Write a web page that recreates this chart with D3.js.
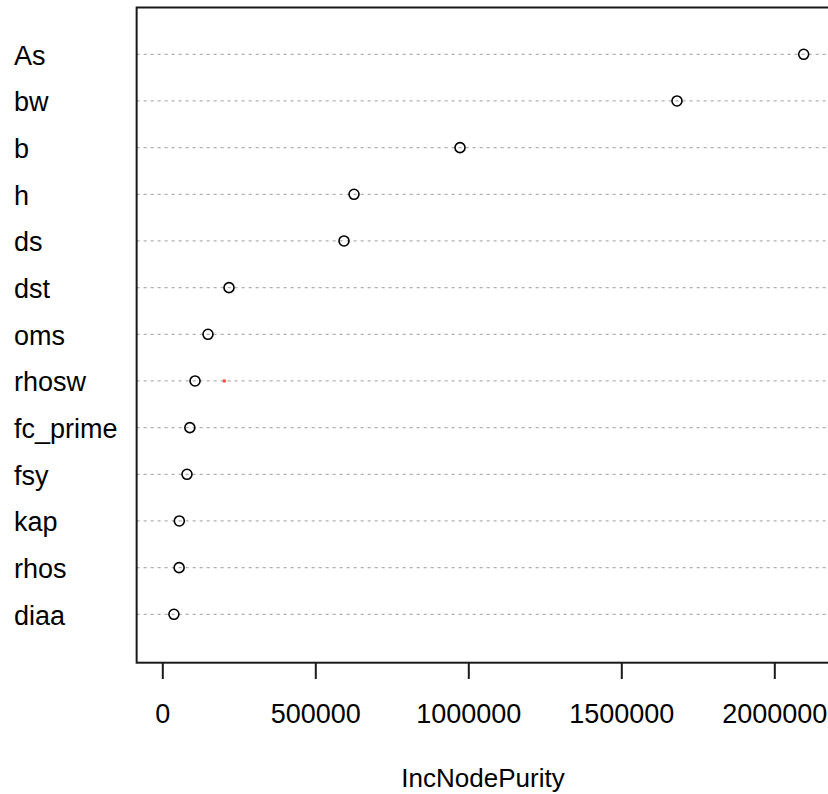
<!DOCTYPE html>
<html>
<head>
<meta charset="utf-8">
<script src="https://cdn.jsdelivr.net/npm/d3@7"></script>
<style>
  html, body { margin: 0; padding: 0; background: #fff; }
  svg { display: block; font-family: "Liberation Sans", Arial, sans-serif; }
</style>
</head>
<body>
<svg id="chart" width="828" height="794"></svg>
<script>
// Variable importance (IncNodePurity), drawn bottom-up as in a dot chart
const variables = ["diaa", "rhos", "kap", "fsy", "fc_prime", "rhosw", "oms", "dst", "ds", "h", "b", "bw", "As"];
const purity    = [38000, 55000, 55600, 80700, 90000, 107000, 149300, 218000, 593800, 626500, 972900, 1682000, 2096000];
const xTicks    = [0, 500000, 1000000, 1500000, 2000000];
const xLabel    = "IncNodePurity";
// small red point sitting on the rhosw row
const redPoint  = [{ variable: "rhosw", value: 202600 }];

const svg = d3.select("#chart");

const maxVal = d3.max(purity);
const xDomain = [-0.04 * maxVal, 1.04 * maxVal];

const x = d3.scaleLinear()
  .domain([0, 2000000])
  .range([162.3, 774.3]);

const y = d3.scaleLinear()
  .domain([1, variables.length])
  .range([614.3, 54.3]);

const plotLeft = x(xDomain[0]);
const plotRight = x(xDomain[1]);
const plotTop = 7.5;
const plotBottom = 662.7;

// dotted guide lines, one per variable
svg.append("g")
  .selectAll("line")
  .data(variables)
  .join("line")
  .attr("x1", plotLeft)
  .attr("x2", plotRight)
  .attr("y1", (d, i) => y(i + 1))
  .attr("y2", (d, i) => y(i + 1))
  .attr("stroke", "#b0b0b0")
  .attr("stroke-width", 1.2)
  .attr("stroke-dasharray", "3,4");

// open circles
svg.append("g")
  .selectAll("circle")
  .data(purity)
  .join("circle")
  .attr("cx", d => x(d))
  .attr("cy", (d, i) => y(i + 1))
  .attr("r", 5)
  .attr("fill", "none")
  .attr("stroke", "#000")
  .attr("stroke-width", 1.6);

// red point
svg.append("g")
  .selectAll("rect")
  .data(redPoint)
  .join("rect")
  .attr("x", d => x(d.value) - 1.5)
  .attr("y", d => y(variables.indexOf(d.variable) + 1) - 1.5)
  .attr("width", 3)
  .attr("height", 3)
  .attr("fill", "#ff4040");

// variable names on the left
svg.append("g")
  .selectAll("text")
  .data(variables)
  .join("text")
  .attr("x", 14)
  .attr("y", (d, i) => y(i + 1) + 10.5)
  .attr("font-size", 27)
  .attr("fill", "#000")
  .text(d => d);

// plot frame
svg.append("rect")
  .attr("x", plotLeft)
  .attr("y", plotTop)
  .attr("width", plotRight - plotLeft)
  .attr("height", plotBottom - plotTop)
  .attr("fill", "none")
  .attr("stroke", "#1a1a1a")
  .attr("stroke-width", 2);

// x axis
const axis = svg.append("g")
  .attr("transform", `translate(0,${plotBottom})`)
  .call(d3.axisBottom(x)
    .tickValues(xTicks)
    .tickFormat(d3.format("d"))
    .tickSize(16.3)
    .tickPadding(24.8));
axis.select(".domain").remove();
axis.selectAll(".tick line")
  .attr("stroke", "#1a1a1a")
  .attr("stroke-width", 2);
axis.selectAll(".tick text")
  .attr("font-size", 27)
  .attr("font-family", "'Liberation Sans', Arial, sans-serif")
  .attr("fill", "#000");

// axis title
svg.append("text")
  .attr("x", (plotLeft + plotRight) / 2)
  .attr("y", 786.7)
  .attr("text-anchor", "middle")
  .attr("font-size", 26)
  .attr("fill", "#000")
  .text(xLabel);
</script>
</body>
</html>
